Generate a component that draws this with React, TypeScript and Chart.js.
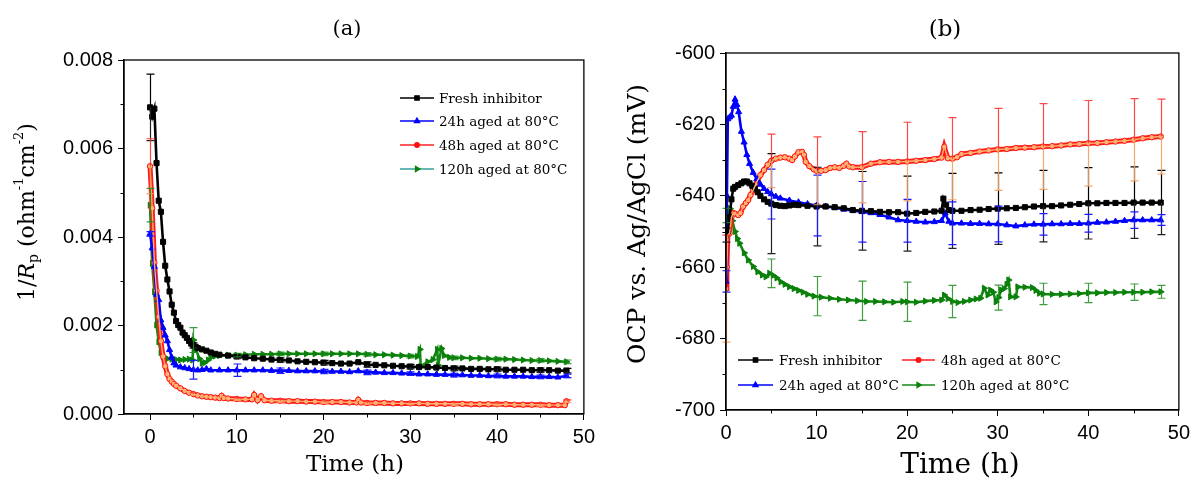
import React, { useEffect, useRef } from 'react';
import { Chart, registerables } from 'chart.js';
import { drawPoint } from 'chart.js/helpers';
Chart.register(...registerables);

const SERIF = '"DejaVu Serif", "Liberation Serif", serif';
const SANS = '"Liberation Sans", Arial, sans-serif';

// ---------- Panel (a): 1/Rp ----------
const A_FRESH_T = [0,0.25,0.5,0.75,1,1.25,1.5,1.75,2,2.25,2.5,2.75,3,3.25,3.5,3.75,4,4.25,4.5,4.75,5,5.25,5.5,6,6.5,7,7.5,8,9,10,11,12,13,14,15,16,17,18,19,20,21,22,23,24,25,26,27,28,29,30,31,32,33,34,35,36,37,38,39,40,41,42,43,44,45,46,47,48];
const A_FRESH_V = [0.00693,0.00672,0.00690,0.00567,0.00482,0.00457,0.00389,0.00335,0.00304,0.00277,0.00247,0.00229,0.00210,0.00201,0.00195,0.00184,0.00178,0.00172,0.00165,0.00159,0.00155,0.00152,0.00149,
0.00146,0.00143,0.00139,0.00136,0.00134,
0.00132,0.00130,0.00128,0.00126,0.00125,0.00123,0.00122,0.00121,0.00119,0.00118,
0.00117,0.00116,0.00115,0.00114,0.00114,0.00117,0.00112,0.00111,0.00110,0.00109,
0.00108,0.00107,0.00106,0.00106,0.00105,0.00104,0.00103,0.00103,0.00102,0.00102,
0.00101,0.00101,0.00100,0.00100,0.00100,0.00099,0.00099,0.00099,0.00098,0.00098];

const A_24H_T = [0,0.25,0.5,0.75,1,1.25,1.5,1.75,2,2.25,2.5,2.75,3,3.5,4,4.5,5,5.5,6,6.5,7,8,9,10,11,12,13,14,15,16,17,18,19,20,21,22,23,24,25,26,27,28,29,30,31,32,33,34,35,36,37,38,39,40,41,42,43,44,45,46,47,48];
const A_24H_V = [0.00407,0.00375,0.00333,0.00270,0.00258,0.00212,0.00195,0.00178,0.00165,0.00145,0.00128,0.00115,0.00110,
0.00106,0.00104,0.00102,0.00100,0.00099,0.00100,0.00102,0.00099,0.00099,
0.00099,0.00099,0.00099,0.00099,0.00099,0.00098,0.00098,0.00098,0.00097,0.00097,
0.00097,0.00096,0.00096,0.00096,0.00095,0.00097,0.00094,0.00094,0.00093,0.00093,
0.00092,0.00091,0.00090,0.00090,0.00089,0.00089,0.00088,0.00088,0.00087,0.00087,
0.00086,0.00086,0.00085,0.00085,0.00085,0.00084,0.00084,0.00084,0.00083,0.00086];

const A_48H_T = [0,0.25,0.5,0.75,1,1.25,1.5,1.75,2,2.25,2.5,2.75,3,3.5,4,4.5,5,5.5,6,6.5,7,7.5,8,8.25,8.5,9,10,11,11.75,12,12.4,12.8,13.2,14,15,16,17,18,19,20,21,22,23,23.8,24,24.3,25,26,27,28,29,30,31,32,33,34,35,36,37,38,39,40,41,42,43,44,45,46,47,47.8,48];
const A_48H_V = [0.00560,0.00465,0.00342,0.00279,0.00220,0.00165,0.00130,0.00108,0.00090,0.00079,0.00073,0.00068,0.00064,
0.00058,0.00052,0.00048,0.00045,0.00042,0.00040,0.00039,0.00038,0.00037,0.00036,
0.00041,0.00036,0.00035,0.00034,0.00033,0.00033,0.00043,0.00031,0.00040,0.00031,
0.00030,0.00030,0.00029,0.00029,0.00028,0.00028,0.00027,0.00027,0.00027,0.00026,
0.00026,0.00032,0.00026,
0.00025,0.00025,0.00025,0.00024,0.00024,0.00024,0.00024,0.00023,0.00023,0.00023,
0.00023,0.00023,0.00022,0.00022,0.00022,0.00022,0.00022,0.00021,0.00021,0.00021,
0.00021,0.00020,0.00020,
0.00020,0.00029];

const A_120H_T = [0,0.25,0.5,0.75,1,1.25,1.5,1.75,2,2.5,3,3.5,4,4.5,4.9,5,5.3,5.7,6,6.3,6.7,7,7.5,8,9,10,11,12,13,14,15,16,17,18,19,20,21,22,23,24,25,26,27,28,29,30,30.8,31.1,31.2,32,32.6,33.1,33.2,33.6,33.9,34.5,35,36,37,38,39,40,41,42,43,44,45,46,47,48];
const A_120H_V = [0.00472,0.00340,0.00276,0.00201,0.00163,0.00139,0.00130,0.00127,0.00125,
0.00124,0.00123,0.00122,0.00123,0.00124,
0.00122,0.00167,0.00145,0.00125,0.00115,0.00116,0.00122,0.00128,0.00131,0.00132,
0.00133,0.00133,0.00134,0.00135,0.00135,0.00135,0.00136,0.00136,0.00136,0.00136,
0.00136,0.00136,0.00136,0.00136,0.00136,0.00136,0.00135,0.00134,0.00134,0.00133,
0.00132,0.00131,
0.00130,0.00146,0.00108,0.00118,0.00123,0.00146,0.00110,0.00148,0.00132,0.00128,
0.00127,0.00127,0.00126,0.00126,0.00125,0.00124,0.00124,0.00123,0.00122,0.00121,0.00121,0.00120,0.00119,0.00118];

// error bars (same sampling times for every series)
const ERR_T = [0,5,10,15,20,25,30,35,40,45,48];
const A_FRESH_ERR = [0.00075,0.00006,0.00005,0.00005,0.00005,0.00006,0.00005,0.00005,0.00005,0.00005,0.00005];
const A_24H_ERR = [0.00005,0.00021,0.00014,0.00006,0.00005,0.00005,0.00004,0.00004,0.00004,0.00004,0.00004];
const A_48H_ERR = [0.00062,0.00003,0.00003,0.00003,0.00003,0.00003,0.00003,0.00003,0.00003,0.00003,0.00003];
const A_120H_ERR = [0.00038,0.00028,0.00004,0.00004,0.00004,0.00004,0.00004,0.00004,0.00004,0.00004,0.00004];

// ---------- Panel (b): OCP ----------
const B_FRESH_T = [0,0.2,0.4,0.6,0.8,1,1.35,1.7,2,2.3,2.6,2.9,3.2,3.5,3.8,4.2,4.6,5,5.5,6,6.5,7,7.5,8,9,10,11,12,13,14,15,16,17,18,19,20,21,22,23,23.8,24,24.3,24.6,25,26,27,28,29,30,31,32,33,34,35,36,37,38,39,40,41,42,43,44,45,46,47,48];
const B_FRESH_V = [-651,-650,-646,-641,-638,
-637.5,-637,-636.5,-636,-636,-636.5,-637.2,-638,-639,-640,-641,-641.7,
-642.2,-642.6,-642.8,-642.9,-642.7,-642.5,-642.6,
-642.8,-643,-643,-643.2,-643.5,-644,-644.2,-644.3,-644.5,-644.6,-644.6,-645,-644.8,-644.5,-644.4,
-644.2,-640.8,-642.5,-644,
-644.2,-644.2,-644,-643.9,-643.7,-643.6,-643.5,-643.4,-643.2,-643,
-642.9,-642.9,-642.7,-642.5,-642.3,-642.1,-642.1,-642,-642,-642,
-641.9,-641.9,-641.9,-641.9];

const B_24H_T = [0,0.1,0.2,0.4,0.6,0.8,1,1.2,1.4,1.7,2,2.3,2.6,3,3.4,3.8,4.2,4.6,5,5.5,6,7,8,9,10,11,12,13,14,15,16,17,18,19,20,21,22,23,23.8,24.2,24.6,25,26,27,28,29,30,31,32,33,34,35,36,37,38,39,40,41,42,43,44,45,46,47,48];
const B_24H_V = [-664,-640,-618.5,-618,-617.5,-615,
-613,-614.5,-616.5,-622,-625,-628.5,-631,-633.5,-635.3,-636.8,-638,-638.9,
-639.5,-640.2,-640.7,
-641.3,-641.8,-642.3,-642.7,-643,-643.3,-643.8,-644.1,-644.5,-644.8,-645.3,-646,-646.8,-647,-647.2,-647.4,-647.3,
-647,-644.9,-647.2,
-647.7,-647.7,-647.8,-647.8,-647.9,-647.9,-648.2,-648.5,-648.2,-648,
-648,-647.9,-647.9,-647.8,-647.8,-647.7,-647.5,-647.4,-647.2,-647,
-646.8,-646.8,-646.8,-646.8];

const B_48H_T = [0,0.1,0.2,0.4,0.6,0.8,1,1.35,1.6,1.9,2.2,2.45,2.7,3,3.25,3.5,3.8,4.2,4.6,5,5.5,6,6.5,7,7.3,7.6,8,8.4,8.6,8.8,9.2,9.7,10,10.5,11,11.5,12,12.5,13,13.3,13.6,14,15,16,17,18,19,20,21,22,23,23.8,24.1,24.5,25,25.5,26,27,28,29,30,31,32,33,34,35,36,37,38,39,40,41,42,43,44,45,46,47,48];
const B_48H_V = [-666,-660,-651,-650.5,-646,-644.8,
-645,-645.4,-644.8,-643,-642,-641.2,-639.8,-638.4,-637,-635.6,-634.2,-632.8,-631.3,
-630.2,-629.6,-629.3,-629.2,-629.6,-630,-629,-627.8,-627.7,-628.5,-630.5,-631.7,-632.6,
-633,-633,-632.8,-632.2,-632,-632.2,-631.6,-631,-631.8,-632,
-632,-631,-630.6,-630.5,-630.5,-630.4,-630.2,-630,-629.7,
-629.3,-626.3,-629.5,-629.6,-629.2,
-628.3,-628,-627.6,-627.3,-627,-626.9,-626.6,-626.5,-626.4,-626.2,
-626.1,-625.9,-625.6,-625.5,-625.3,-625.2,-625,-624.8,-624.6,-624.3,
-623.9,-623.6,-623.4];

const B_120H_T = [0,0.2,0.45,0.7,1,1.25,1.5,2,2.45,3,3.5,4,4.4,4.8,5.2,5.6,6.05,6.5,7,7.5,8,8.5,9,9.7,10.5,11.5,12.5,13.5,14.5,15.5,16.5,17.5,18.5,19.5,20,21,22,23,23.8,24.1,24.5,25,25.6,26.3,27,27.6,28.1,28.5,28.9,29.2,29.5,29.8,30.1,30.4,30.7,31,31.2,31.4,32,32.2,33,33.8,34.2,34.6,35,36,37,38,39,40,41,42,43,44,45,46,47,48];
const B_120H_V = [-645.5,-645,-643.6,-647,-650,-652,-653.3,-656,-658,-659.8,
-661.3,-662.2,-662.7,-661.7,-662.3,-663,-664.1,-664.8,-665.5,-666,
-666.5,-667,-667.6,-668.1,-668.4,-668.7,-669,-669.2,-669.4,-669.6,
-669.6,-669.7,-669.8,-669.6,-669.7,-669.8,-669.5,-669.3,-669.2,-667.8,
-668.8,-669.6,-669.9,-669.6,-669.2,-668.9,-668.7,-665.9,-667.8,-666.4,
-667,-669.7,-668.5,-666.4,-666,-664.8,-663.6,-668.3,-668.3,-665.5,
-665.6,-665.7,-666.5,-667.3,
-667.5,-667.6,-667.6,-667.5,-667.4,-667.2,-667.2,-667.1,-667.1,-667,-667,-667,-666.9,-666.9];

const B_FRESH_ERR = [2,14,11,11,10.5,10.5,10,10,10,10,9];
const B_24H_ERR = [3,7,8.5,8.5,6,6,5,3,2.5,2.3,1.5];
const B_48H_ERR = [15,7.5,9.5,10,11,11.5,11.5,12,12,11.5,10.5];
const B_120H_ERR = [2,4,5.5,5.5,5.5,4.5,3.5,3,2.7,2.3,1.8];

const LABELS = ['Fresh inhibitor', '24h aged at 80\u00B0C', '48h aged at 80\u00B0C', '120h aged at 80\u00B0C'];

type Style = { line: string; lw: number; pBorder: string; pFill: string; style: string; rot: number; r: number; errUp: string; errDown: string; legendLine: string; inner?: string };
const STYLES: Style[] = [
  { line: '#000000', lw: 2.6, pBorder: '#000000', pFill: '#000000', style: 'rect', rot: 0, r: 3.6, errUp: '#000000', errDown: '#222222', legendLine: '#000000' },
  { line: '#0000ff', lw: 2.6, pBorder: '#0000ff', pFill: '#0000ff', style: 'triangle', rot: 0, r: 3.5, errUp: '#1a1aff', errDown: '#1a1aff', legendLine: '#0000ff' },
  { line: '#ff1a1a', lw: 5, pBorder: '#ff1010', pFill: '#ffb878', style: 'circle', rot: 0, r: 2.7, errUp: 'rgba(255,40,40,0.85)', errDown: 'rgba(245,160,90,0.9)', legendLine: '#ff2020', inner: '#ffb070' },
  { line: '#138a13', lw: 2.6, pBorder: '#0a800a', pFill: '#0a800a', style: 'triangle', rot: 90, r: 3.5, errUp: 'rgba(30,140,30,0.85)', errDown: 'rgba(30,140,30,0.85)', legendLine: '#138a13' },
];

type PanelSpec = {
  key: string; width: number;
  ts: number[][]; vs: number[][]; errs: number[][];
  xMin: number; xMax: number; yMin: number; yMax: number; yStep: number; yFmt: (v: number) => string;
  xMinor: number[]; yMinor: number[];
  yAxisWidth: number; xAxisHeight: number; padTop: number; padRight: number;
  title: string; titleX: number; titleFont: number;
  xTitleX: number; xTitleY: number; xTitleFont: number;
  yTitleX: number; yTitleY: number;
  yTitle: { text: string; size: number; italic?: boolean; dy?: number }[];
  legend: { x1: number; x2: number; tx: number; y: number; font: number; lineColor?: string }[];
};

function drawRich(ctx: CanvasRenderingContext2D, parts: PanelSpec['yTitle'], cx: number, cy: number) {
  ctx.save();
  ctx.translate(cx, cy);
  ctx.rotate(-Math.PI / 2);
  ctx.fillStyle = '#000';
  ctx.textBaseline = 'middle';
  ctx.textAlign = 'left';
  const fontOf = (p: any) => `${p.italic ? 'italic ' : ''}${p.size}px ${SERIF}`;
  let total = 0;
  parts.forEach(p => { ctx.font = fontOf(p); total += ctx.measureText(p.text).width; });
  let x = -total / 2;
  parts.forEach(p => {
    ctx.font = fontOf(p);
    ctx.fillText(p.text, x, p.dy || 0);
    x += ctx.measureText(p.text).width;
  });
  ctx.restore();
}

function makePlugin(spec: PanelSpec) {
  return {
    id: 'decor_' + spec.key,
    afterDatasetsDraw(chart: any) {
      const { ctx, scales: { x, y }, chartArea: a } = chart;
      ctx.save();
      // light centre line over the 48h series (Origin style)
      ctx.beginPath();
      ctx.rect(a.left, a.top, a.right - a.left, a.bottom - a.top);
      ctx.clip();
      spec.ts.forEach((ts, si) => {
        const st = STYLES[si];
        if (!st.inner) return;
        ctx.strokeStyle = st.inner;
        ctx.lineWidth = 1.4;
        ctx.beginPath();
        ts.forEach((t, i) => {
          const px = x.getPixelForValue(t), py = y.getPixelForValue(spec.vs[si][i]);
          if (i === 0) ctx.moveTo(px, py); else ctx.lineTo(px, py);
        });
        ctx.stroke();
      });
      ctx.restore();
      ctx.save();
      ctx.lineWidth = 1.2;
      spec.ts.forEach((ts, si) => {
        const st = STYLES[si];
        ERR_T.forEach((et, i) => {
          const e = spec.errs[si][i];
          let k = 0, best = Infinity;
          ts.forEach((tt, j) => { const d = Math.abs(tt - et); if (d < best) { best = d; k = j; } });
          const c = spec.vs[si][k];
          const px = Math.round(x.getPixelForValue(et)) + 0.5;
          const pc = y.getPixelForValue(c), pu = y.getPixelForValue(c + e), pd = y.getPixelForValue(c - e);
          ctx.strokeStyle = st.errUp;
          ctx.beginPath(); ctx.moveTo(px, pc); ctx.lineTo(px, pu); ctx.moveTo(px - 4, pu); ctx.lineTo(px + 4, pu); ctx.stroke();
          ctx.strokeStyle = st.errDown;
          ctx.beginPath(); ctx.moveTo(px, pc); ctx.lineTo(px, pd); ctx.moveTo(px - 4, pd); ctx.lineTo(px + 4, pd); ctx.stroke();
        });
      });
      ctx.restore();
    },
    afterDraw(chart: any) {
      const { ctx, chartArea: a, scales: { x, y } } = chart;
      ctx.save();
      // frame
      ctx.strokeStyle = '#000';
      ctx.lineWidth = 1.3;
      ctx.strokeRect(a.left, a.top, a.right - a.left, a.bottom - a.top);
      // minor ticks
      ctx.lineWidth = 1;
      ctx.beginPath();
      spec.xMinor.forEach(v => { const px = Math.round(x.getPixelForValue(v)) + 0.5; ctx.moveTo(px, a.bottom); ctx.lineTo(px, a.bottom + 3.5); });
      spec.yMinor.forEach(v => { const py = Math.round(y.getPixelForValue(v)) + 0.5; ctx.moveTo(a.left, py); ctx.lineTo(a.left - 3.5, py); });
      ctx.stroke();
      // title
      ctx.fillStyle = '#000';
      ctx.textAlign = 'center';
      ctx.textBaseline = 'middle';
      ctx.font = `${spec.titleFont}px ${SERIF}`;
      ctx.fillText(spec.title, spec.titleX, 30);
      ctx.font = `${spec.xTitleFont}px ${SERIF}`;
      ctx.fillText('Time (h)', spec.xTitleX, spec.xTitleY);
      drawRich(ctx, spec.yTitle, spec.yTitleX, spec.yTitleY);
      // legend
      spec.legend.forEach((L, i) => {
        const st = STYLES[i];
        ctx.strokeStyle = L.lineColor || st.legendLine;
        ctx.lineWidth = 1.3;
        ctx.beginPath(); ctx.moveTo(L.x1, L.y); ctx.lineTo(L.x2, L.y); ctx.stroke();
        ctx.fillStyle = st.pBorder;
        ctx.strokeStyle = st.pBorder;
        drawPoint(ctx, { pointStyle: st.style as any, rotation: st.rot, radius: st.r * 0.85, borderWidth: 1 }, (L.x1 + L.x2) / 2, L.y);
        ctx.fillStyle = '#000';
        ctx.textAlign = 'left';
        ctx.textBaseline = 'middle';
        ctx.font = `${L.font}px ${SERIF}`;
        ctx.fillText(LABELS[i], L.tx, L.y + 1);
      });
      ctx.restore();
    },
  };
}

const SPEC_A: PanelSpec = {
  key: 'a', width: 600,
  ts: [A_FRESH_T, A_24H_T, A_48H_T, A_120H_T],
  vs: [A_FRESH_V, A_24H_V, A_48H_V, A_120H_V],
  errs: [A_FRESH_ERR, A_24H_ERR, A_48H_ERR, A_120H_ERR],
  xMin: -3, xMax: 50, yMin: 0, yMax: 0.008, yStep: 0.002, yFmt: v => v.toFixed(3),
  xMinor: [5, 15, 25, 35, 45], yMinor: [0.001, 0.003, 0.005, 0.007],
  yAxisWidth: 124, xAxisHeight: 70, padTop: 60, padRight: 12,
  title: '(a)', titleX: 347, titleFont: 21,
  xTitleX: 355, xTitleY: 465, xTitleFont: 23,
  yTitleX: 28, yTitleY: 212,
  yTitle: [
    { text: '1/', size: 22 }, { text: 'R', size: 22, italic: true }, { text: 'p', size: 14, dy: 6 },
    { text: ' (ohm', size: 22 }, { text: '-1', size: 13, dy: -8 }, { text: 'cm', size: 22 }, { text: '-2', size: 13, dy: -8 }, { text: ')', size: 22 },
  ],
  legend: [
    { x1: 400, x2: 434, tx: 439, y: 98, font: 13.5 },
    { x1: 400, x2: 434, tx: 439, y: 121, font: 13.5 },
    { x1: 400, x2: 434, tx: 439, y: 145, font: 13.5 },
    { x1: 400, x2: 434, tx: 439, y: 169, font: 13.5, lineColor: '#33a0a0' },
  ],
};

const SPEC_B: PanelSpec = {
  key: 'b', width: 595,
  ts: [B_FRESH_T, B_24H_T, B_48H_T, B_120H_T],
  vs: [B_FRESH_V, B_24H_V, B_48H_V, B_120H_V],
  errs: [B_FRESH_ERR, B_24H_ERR, B_48H_ERR, B_120H_ERR],
  xMin: 0, xMax: 50, yMin: -700, yMax: -600, yStep: 20, yFmt: v => String(Math.round(v)),
  xMinor: [5, 15, 25, 35, 45], yMinor: [-610, -630, -650, -670, -690],
  yAxisWidth: 126, xAxisHeight: 74, padTop: 53, padRight: 12,
  title: '(b)', titleX: 345, titleFont: 23,
  xTitleX: 360, xTitleY: 466, xTitleFont: 28,
  yTitleX: 38, yTitleY: 224,
  yTitle: [{ text: 'OCP vs. Ag/AgCl (mV)', size: 25 }],
  legend: [
    { x1: 138, x2: 173, tx: 179, y: 360, font: 13.5 },
    { x1: 138, x2: 173, tx: 179, y: 385, font: 13.5 },
    { x1: 302, x2: 335, tx: 341, y: 360, font: 13.5 },
    { x1: 302, x2: 335, tx: 341, y: 385, font: 13.5 },
  ],
};

function Panel({ spec, left }: { spec: PanelSpec; left: number }) {
  const ref = useRef<HTMLCanvasElement>(null);
  useEffect(() => {
    if (!ref.current) return;
    const datasets = spec.ts.map((ts, si) => {
      const st = STYLES[si];
      return {
        label: LABELS[si],
        data: ts.map((t, i) => ({ x: t, y: spec.vs[si][i] })),
        showLine: true,
        borderColor: st.line,
        borderWidth: st.lw,
        backgroundColor: st.pFill,
        pointStyle: st.style,
        pointRotation: st.rot,
        pointRadius: st.r,
        pointBorderColor: st.pBorder,
        pointBackgroundColor: st.pFill,
        pointBorderWidth: 1,
        tension: 0,
      };
    });
    const tickFont = { family: SANS, size: 20 };
    const chart = new Chart(ref.current, {
      type: 'scatter',
      data: { datasets: datasets as any },
      options: {
        animation: false,
        responsive: false,
        layout: { padding: { top: spec.padTop, right: spec.padRight, left: 0, bottom: 0 } },
        plugins: { legend: { display: false }, tooltip: { enabled: false }, title: { display: false } },
        scales: {
          x: {
            type: 'linear', min: spec.xMin, max: spec.xMax,
            ticks: { stepSize: 10, font: tickFont, color: '#000', padding: 5, maxRotation: 0 },
            afterBuildTicks: (s: any) => { s.ticks = [0, 10, 20, 30, 40, 50].map(v => ({ value: v })); },
            afterFit: (s: any) => { s.height = spec.xAxisHeight; },
            grid: { display: true, drawOnChartArea: false, drawTicks: true, tickLength: 6, color: '#000', lineWidth: 1 },
            border: { display: true, color: '#000', width: 1.3 },
          },
          y: {
            type: 'linear', min: spec.yMin, max: spec.yMax,
            ticks: { stepSize: spec.yStep, font: tickFont, color: '#000', padding: 5, callback: (v: any) => spec.yFmt(Number(v)) },
            afterFit: (s: any) => { s.width = spec.yAxisWidth; },
            grid: { display: true, drawOnChartArea: false, drawTicks: true, tickLength: 6, color: '#000', lineWidth: 1 },
            border: { display: true, color: '#000', width: 1.3 },
          },
        },
      },
      plugins: [makePlugin(spec)],
    } as any);
    return () => chart.destroy();
  }, [spec]);
  return (
    <canvas ref={ref} width={spec.width} height={484}
      style={{ position: 'absolute', left, top: 0, width: spec.width, height: 484 }} />
  );
}

export default function App() {
  return (
    <div style={{ position: 'absolute', left: 0, top: 0, width: 1195, height: 484, background: '#fff', overflow: 'hidden' }}>
      <Panel spec={SPEC_A} left={0} />
      <Panel spec={SPEC_B} left={600} />
    </div>
  );
}
